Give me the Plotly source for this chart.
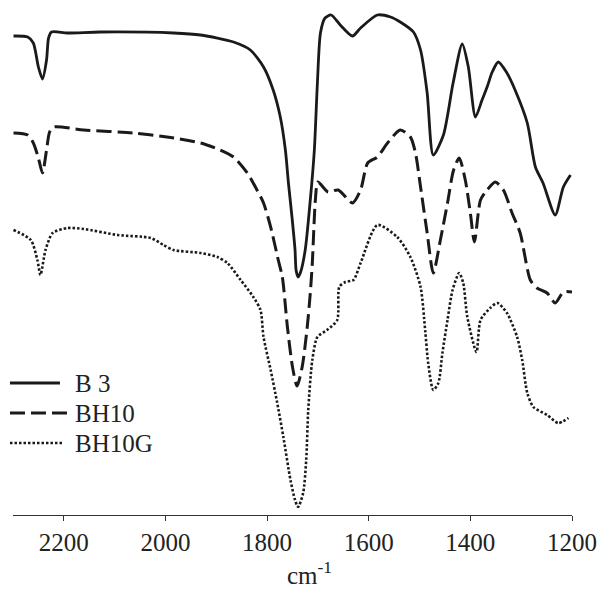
import plotly.graph_objects as go

# Wavenumbers (cm-1) and transmittance readings (arbitrary offset units)
b3_wn = [2299, 2271, 2260, 2250, 2242, 2234, 2230, 2224, 2193, 2128, 1984, 1931, 1866, 1833,
         1807, 1788, 1774, 1764, 1758, 1751, 1745, 1743, 1739, 1734, 1725, 1715, 1707, 1701,
         1695, 1686, 1674, 1656, 1632, 1616, 1583, 1557, 1538, 1512, 1498, 1485, 1473, 1453,
         1434, 1416, 1404, 1390, 1377, 1367, 1357, 1345, 1328, 1312, 1288, 1272, 1257, 1233,
         1217, 1203]
b3_val = [479, 478, 472, 448, 436, 455, 477, 483, 482, 483, 482, 480, 473, 465,
          448, 425, 398, 365, 332, 298, 265, 245, 238, 243, 265, 315, 365, 432,
          482, 497, 500, 490, 479, 487, 500, 498, 493, 483, 465, 422, 360, 380,
          432, 471, 448, 398, 415, 428, 443, 453, 442, 425, 392, 348, 332, 300,
          328, 340]

bh10_wn = [2299, 2271, 2260, 2250, 2242, 2234, 2228, 2220, 2161, 2063, 1997, 1931, 1892, 1866,
           1839, 1823, 1807, 1793, 1778, 1770, 1760, 1750, 1741, 1731, 1721, 1715, 1711, 1705,
           1700, 1680, 1660, 1632, 1616, 1602, 1583, 1563, 1538, 1518, 1508, 1498, 1485, 1473,
           1459, 1445, 1433, 1422, 1410, 1400, 1392, 1380, 1367, 1351, 1335, 1318, 1302, 1282,
           1269, 1249, 1233, 1217, 1200]
bh10_val = [382, 380, 372, 357, 342, 365, 383, 388, 385, 382, 378, 372, 365, 358,
            342, 328, 312, 288, 255, 238, 188, 148, 129, 148, 188, 222, 252, 315,
            333, 323, 325, 312, 325, 352, 358, 372, 385, 378, 362, 328, 282, 242,
            275, 312, 345, 357, 335, 302, 273, 315, 325, 333, 325, 302, 282, 235,
            227, 222, 212, 223, 223]

bh10g_wn = [2299, 2265, 2252, 2246, 2236, 2222, 2193, 2161, 2094, 2029, 2004, 1984, 1931, 1898,
            1878, 1852, 1827, 1813, 1807, 1793, 1780, 1768, 1754, 1745, 1739, 1729, 1723, 1719,
            1711, 1701, 1682, 1662, 1658, 1646, 1630, 1616, 1583, 1544, 1518, 1498, 1489, 1483,
            1473, 1463, 1455, 1445, 1435, 1422, 1414, 1406, 1388, 1380, 1361, 1347, 1328, 1308,
            1298, 1288, 1276, 1249, 1227, 1207]
bh10g_val = [285, 275, 255, 240, 265, 282, 287, 286, 280, 277, 270, 265, 262, 258,
             252, 235, 218, 205, 178, 145, 112, 78, 35, 15, 8, 22, 55, 105,
             155, 178, 185, 195, 228, 233, 235, 252, 290, 278, 258, 228, 185, 152,
             125, 132, 162, 195, 225, 242, 232, 198, 163, 195, 207, 212, 202, 178,
             155, 122, 108, 100, 92, 97]

series_names = ["B 3", "BH10", "BH10G"]
tick_vals = [2200, 2000, 1800, 1600, 1400, 1200]
tick_text = ["2200", "2000", "1800", "1600", "1400", "1200"]

INK = "#1a1a1a"
FONT = "Liberation Serif"
styles = [dict(width=2.8, dash="solid"),
          dict(width=3, dash="15px,6px"),
          dict(width=2.6, dash="2.5px,2px")]

fig = go.Figure()
for name, xs, ys, st in zip(series_names, [b3_wn, bh10_wn, bh10g_wn],
                            [b3_val, bh10_val, bh10g_val], styles):
    fig.add_trace(go.Scatter(x=xs, y=ys, mode="lines", name=name,
                             line=dict(color=INK, width=st["width"], dash=st["dash"],
                                       shape="spline", smoothing=0.7),
                             showlegend=False, hoverinfo="skip"))

# Manual legend matching the reference layout
leg_y = [0.2563, 0.198, 0.1398]
leg_x1 = [0.084, 0.098, 0.088]
for name, st, yy, x1 in zip(series_names, styles, leg_y, leg_x1):
    fig.add_shape(type="line", xref="paper", yref="paper", x0=-0.0054, x1=x1, y0=yy, y1=yy,
                  line=dict(color=INK, width=st["width"], dash=st["dash"]))
    fig.add_annotation(xref="paper", yref="paper", x=0.107, y=yy, text=name, showarrow=False,
                       xanchor="left", yanchor="middle",
                       font=dict(family=FONT, size=25, color="#222"))

fig.add_annotation(xref="paper", yref="paper", x=0.531, y=-0.112, text="cm<sup>-1</sup>",
                   showarrow=False, xanchor="center", yanchor="middle",
                   font=dict(family=FONT, size=25, color="#222"))

fig.update_layout(
    width=602, height=590,
    margin=dict(l=13, r=30, t=0, b=75),
    paper_bgcolor="white", plot_bgcolor="white",
    font=dict(family=FONT, color="#222"),
    xaxis=dict(range=[2300, 1200], tickvals=tick_vals, ticktext=tick_text,
               showgrid=False, zeroline=False, showline=True, linecolor="#333", linewidth=1.3,
               ticks="outside", ticklen=5, tickcolor="#333", tickwidth=1.3,
               tickfont=dict(family=FONT, size=25, color="#222")),
    yaxis=dict(range=[0, 515], visible=False, showgrid=False, zeroline=False),
)

fig.write_html("out.html")
